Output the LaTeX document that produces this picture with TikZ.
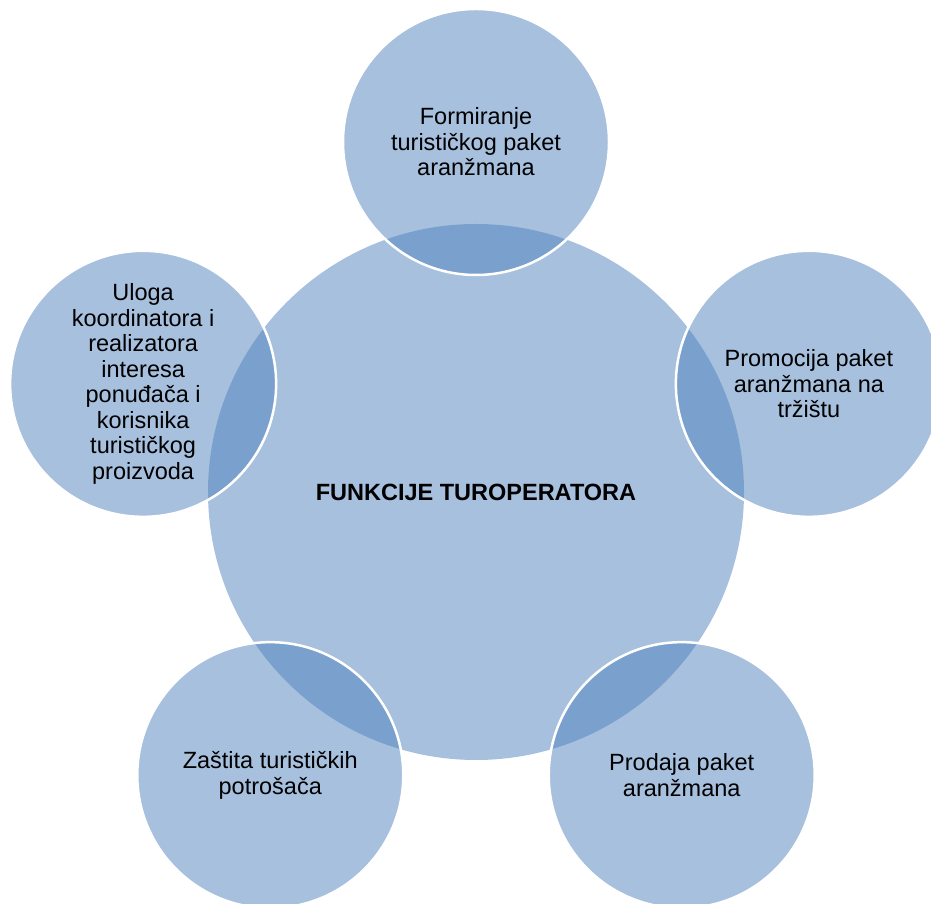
\documentclass[tikz,border=0pt]{standalone}
\usepackage{fontspec}
\setmainfont{Liberation Sans}
\usepackage{tikz}
\usepackage{xcolor}
\definecolor{smartblue}{HTML}{4F81BD}

\begin{document}
\begin{tikzpicture}[x=1pt,y=1pt,
  hub/.style={circle,inner sep=0pt,minimum size=536pt,fill=smartblue,fill opacity=0.5,text opacity=1,
    font=\fontsize{23.5}{25.5}\selectfont\bfseries},
  leaf/.style={circle,inner sep=0pt,minimum size=266pt,fill=smartblue,fill opacity=0.5,text opacity=1,
    draw=white,line width=2.5pt,align=center,font=\fontsize{23.5}{25.5}\selectfont}]
\useasboundingbox (0,0) rectangle (931,904);
\clip (0,0) rectangle (931,904);
\node[hub] (hub) at (476,412) {FUNKCIJE TUROPERATORA};
\node[leaf] (forming) at ([shift={(90:350)}]hub.center) {Formiranje\\turističkog paket\\aranžmana};
\node[leaf] (promo) at ([shift={(18:350)}]hub.center) {Promocija paket\\aranžmana na\\tržištu};
\node[leaf] (sale) at ([shift={(-54:350)}]hub.center) {Prodaja paket\\aranžmana};
\node[leaf] (protect) at ([shift={(-126:350)}]hub.center) {Zaštita turističkih\\potrošača};
\node[leaf] (coord) at ([shift={(162:350)}]hub.center) {Uloga\\koordinatora i\\realizatora\\interesa\\ponuđača i\\korisnika\\turističkog\\proizvoda};
\end{tikzpicture}
\end{document}
